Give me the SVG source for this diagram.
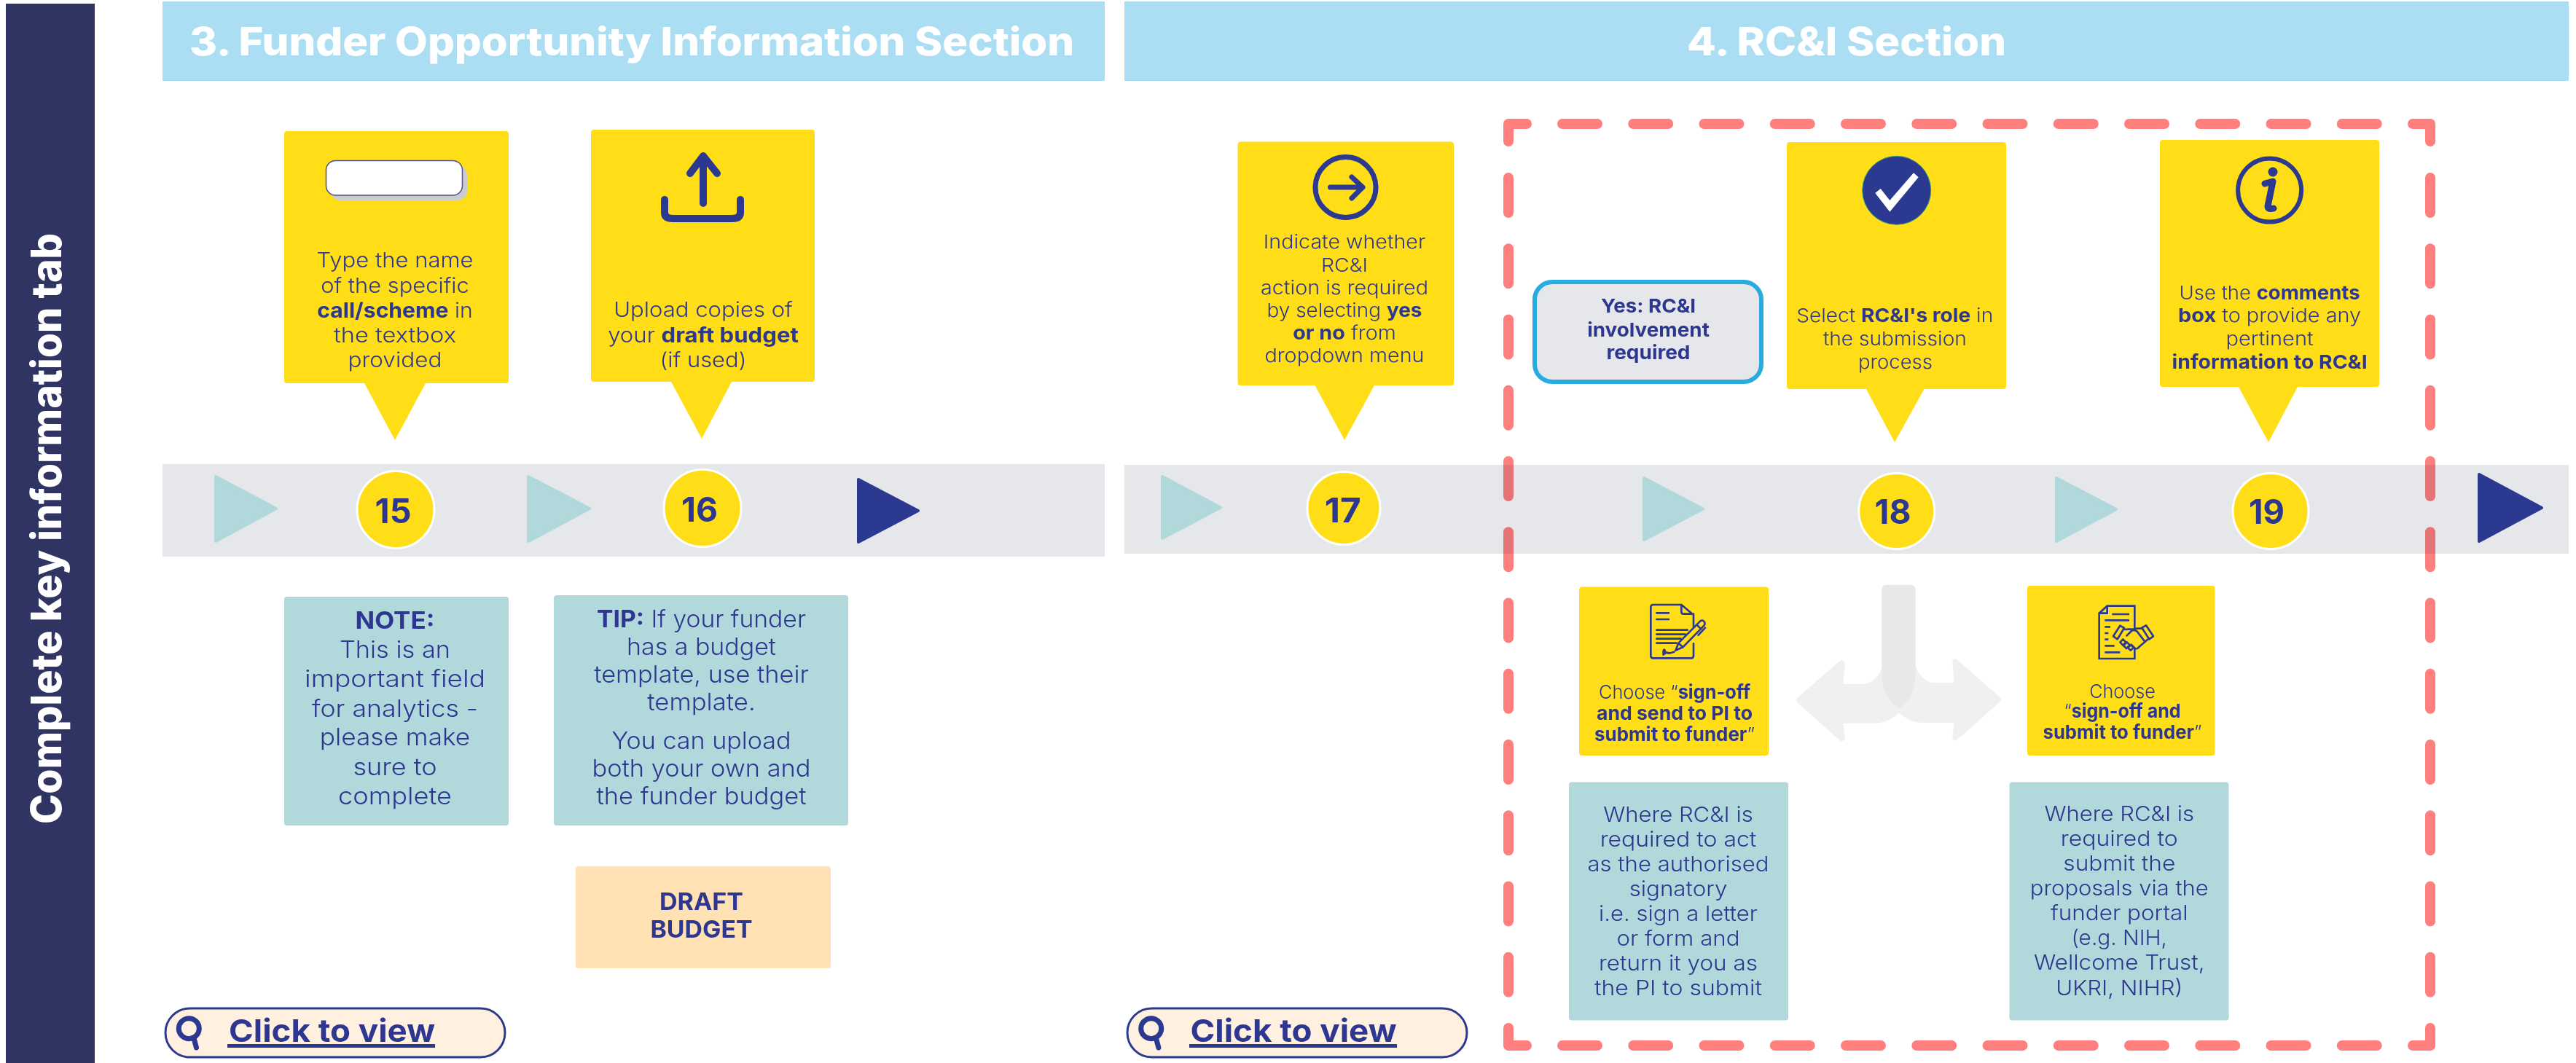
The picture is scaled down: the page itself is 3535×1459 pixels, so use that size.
<svg xmlns="http://www.w3.org/2000/svg" width="3535" height="1459" viewBox="0 0 3535 1459">
<style>
text{font-family:"Inter","Liberation Sans",sans-serif;fill:#2E3790;text-anchor:middle;font-weight:300}
.b,text.b{font-weight:700}
.w{fill:#fff;font-weight:800}
.y{fill:#FFDE17}
.g{fill:#B1D8DA}
.n{font-weight:700;font-size:46px}
.s26{font-size:26px}.s28{font-size:28px}.s29{font-size:29px}.s33{font-size:33px}
.tri{fill:#B1D8DA;stroke:#B1D8DA;stroke-width:4;stroke-linejoin:round}
.trid{fill:#2B3990;stroke:#2B3990;stroke-width:4;stroke-linejoin:round}
.num{fill:#FFDE17;stroke:#fff;stroke-width:3}
.ic{fill:none;stroke:#2B3990;stroke-linecap:round;stroke-linejoin:round}
.dash{fill:none;stroke:#FF7F7F;stroke-width:14;stroke-linecap:round;stroke-linejoin:round;mix-blend-mode:multiply}
.click{fill:#FFF0E0;stroke:#2B3990;stroke-width:3}
.cl{font-weight:700;font-size:43px}
</style>
<rect width="3535" height="1459" fill="#fff"/>
<g id="sidebar"><rect x="8" y="5" width="122" height="1454" fill="#303463"/>
<text class="w" transform="translate(84 725.500) rotate(-90) scale(1 1.2)" font-size="48" textLength="811" lengthAdjust="spacingAndGlyphs">Complete key information tab</text></g>
<g id="header-3"><rect x="223" y="2" width="1293" height="109" fill="#ABDEF3"/>
<text class="w" x="867" y="76" font-size="54" textLength="1214" lengthAdjust="spacingAndGlyphs">3. Funder Opportunity Information Section</text></g>
<g id="header-4"><rect x="1543" y="2" width="1982" height="109" fill="#ABDEF3"/>
<text class="w" x="2534" y="76" font-size="54" textLength="438" lengthAdjust="spacingAndGlyphs">4. RC&amp;I Section</text></g>
<g id="band-3"><rect x="223" y="637" width="1293" height="127" fill="#E6E7EB"/></g>
<g id="band-4"><rect x="1543" y="638" width="1982" height="122" fill="#E6E7EB"/></g>

<g id="connectors">
<polygon class="tri" points="296,654 379,698 296,743"/>
<polygon class="tri" points="725,654 809,698 725,743"/>
<polygon class="trid" points="1178,658 1260,701 1178,744"/>
<polygon class="tri" points="1595,654 1675,696.500 1595,739"/>
<polygon class="tri" points="2256,656 2337,698.500 2256,741"/>
<polygon class="tri" points="2822,656 2904,699 2822,743"/>
<polygon class="trid" points="3402,651 3488,697 3402,743"/>
<path class="dash" d="M2070 194V170H2095M3311 170H3335V194M3335 1411V1435H3311M2095 1435H2070V1411"/>
<path class="dash" stroke-dasharray="48 49.250" d="M2144 170H3263"/>
<path class="dash" stroke-dasharray="48 49.250" d="M2144 1435H3263"/>
<path class="dash" stroke-dasharray="48 49.250" d="M2070 244V1363"/>
<path class="dash" stroke-dasharray="48 49.250" d="M3335 244V1363"/>
<g id="fork" transform="translate(2440 780) scale(.33333)">
<path fill="#F0F0F0" stroke="#F0F0F0" stroke-width="24" stroke-linejoin="round" d="M87 543L262 390L263 400L255 488H355C395 488 427 450 439 410L498 578C470 610 430 626 395 626H255L263 690L262 700Z"/>
<path fill="#F0F0F0" stroke="#F0F0F0" stroke-width="24" stroke-linejoin="round" d="M906 540L730 386L731 395L738 483H640C600 483 566 445 554 405L498 578C530 610 560 623 590 623H738L731 690L730 697Z"/>
<path fill="#E8E8E8" d="M427 88Q427 68 447 68H546Q566 68 566 88V430C566 500 540 550 498 578C455 550 427 500 427 430Z"/>
</g>
</g>

<g id="step-15">
<path class="y" d="M394 180H694Q698 180 698 184V522Q698 526 694 526H584L542 604L500 526H394Q390 526 390 522V184Q390 180 394 180Z"/>
<rect x="454" y="227" width="187" height="48" rx="13" fill="#CCC"/>
<rect x="447.500" y="220.500" width="187" height="47.500" rx="13" fill="#fff" stroke="#4D5288" stroke-width="1.500"/>
<text class="s28" x="542" y="367" textLength="215" lengthAdjust="spacingAndGlyphs">Type the name</text>
<text class="s28" x="542" y="402" textLength="203.500" lengthAdjust="spacingAndGlyphs">of the specific</text>
<text class="s28" x="542" y="436" textLength="213.500" lengthAdjust="spacingAndGlyphs"><tspan class="b">call/scheme</tspan> in</text>
<text class="s28" x="542" y="470" textLength="168" lengthAdjust="spacingAndGlyphs">the textbox</text>
<text class="s28" x="542" y="503.500" textLength="129" lengthAdjust="spacingAndGlyphs">provided</text>
<circle class="num" cx="543" cy="699.500" r="53"/>
<text class="n" x="539.500" y="718" textLength="50" lengthAdjust="spacingAndGlyphs">15</text>
</g>
<g id="step-16">
<path class="y" d="M815 178H1114Q1118 178 1118 182V520Q1118 524 1114 524H1004L963 602L921 524H815Q811 524 811 520V182Q811 178 815 178Z"/>
<path class="ic" stroke-width="10" d="M965 279V216M947 238L965 214L984 238M912 274V292Q912 300 924 300H1004Q1016 300 1016 292V274"/>
<text class="s28" x="965" y="435" textLength="245.600" lengthAdjust="spacingAndGlyphs">Upload copies of</text>
<text class="s28" x="965" y="470" textLength="261.700" lengthAdjust="spacingAndGlyphs">your <tspan class="b">draft budget</tspan></text>
<text class="s28" x="965" y="503.500" textLength="119" lengthAdjust="spacingAndGlyphs">(if used)</text>
<circle class="num" cx="964" cy="697.500" r="53"/>
<text class="n" x="960" y="715.500" textLength="50" lengthAdjust="spacingAndGlyphs">16</text>
</g>
<g id="note"><rect class="g" x="390" y="819" width="308" height="314" rx="4"/>
<text class="s33 b" x="542" y="863" textLength="109" lengthAdjust="spacingAndGlyphs">NOTE:</text>
<text class="s33" x="542" y="903.400" textLength="152" lengthAdjust="spacingAndGlyphs">This is an</text>
<text class="s33" x="542" y="943" textLength="248" lengthAdjust="spacingAndGlyphs">important field</text>
<text class="s33" x="542" y="983.500" textLength="228" lengthAdjust="spacingAndGlyphs">for analytics -</text>
<text class="s33" x="542" y="1023.400" textLength="206.600" lengthAdjust="spacingAndGlyphs">please make</text>
<text class="s33" x="542" y="1063.700" textLength="115" lengthAdjust="spacingAndGlyphs">sure to</text>
<text class="s33" x="542" y="1103.500" textLength="156" lengthAdjust="spacingAndGlyphs">complete</text>
</g>
<g id="tip"><rect class="g" x="760" y="817" width="404" height="316" rx="4"/>
<text class="s33" x="962.500" y="861" textLength="287" lengthAdjust="spacingAndGlyphs"><tspan class="b">TIP:</tspan> If your funder</text>
<text class="s33" x="962.500" y="899" textLength="205" lengthAdjust="spacingAndGlyphs">has a budget</text>
<text class="s33" x="962.500" y="937" textLength="294.600" lengthAdjust="spacingAndGlyphs">template, use their</text>
<text class="s33" x="962.500" y="975" textLength="148.400" lengthAdjust="spacingAndGlyphs">template.</text>
<text class="s33" x="962.500" y="1027.700" textLength="246" lengthAdjust="spacingAndGlyphs">You can upload</text>
<text class="s33" x="962.500" y="1066" textLength="300" lengthAdjust="spacingAndGlyphs">both your own and</text>
<text class="s33" x="962.500" y="1104" textLength="288" lengthAdjust="spacingAndGlyphs">the funder budget</text>
</g>
<g id="draft-budget"><rect x="790" y="1189" width="350" height="140" rx="4" fill="#FFE1B4"/>
<text class="s33 b" x="962.500" y="1248.600" textLength="115" lengthAdjust="spacingAndGlyphs">DRAFT</text>
<text class="s33 b" x="962.500" y="1286.700" textLength="140" lengthAdjust="spacingAndGlyphs">BUDGET</text>
</g>
<g id="click-3"><rect class="click" x="227" y="1384" width="466" height="67" rx="33.500"/>
<circle class="ic" stroke-width="7" cx="259.300" cy="1411.700" r="14"/><path class="ic" stroke-width="7" stroke-linecap="butt" d="M266 1425L269.500 1438"/>
<text class="cl" x="455.500" y="1429.500" textLength="283" lengthAdjust="spacingAndGlyphs">Click to view</text>
<rect x="312" y="1433" width="285" height="5" fill="#2B3990"/>
</g>
<g id="click-4"><rect class="click" x="1547" y="1384" width="466" height="67" rx="33.500"/>
<circle class="ic" stroke-width="7" cx="1579.700" cy="1411.700" r="14"/><path class="ic" stroke-width="7" stroke-linecap="butt" d="M1586.400 1425L1589.900 1438"/>
<text class="cl" x="1775" y="1429.500" textLength="283" lengthAdjust="spacingAndGlyphs">Click to view</text>
<rect x="1632" y="1433" width="285" height="5" fill="#2B3990"/>
</g>
<g id="step-17">
<path class="y" d="M1702.500 194.500H1991Q1995 194.500 1995 198.500V525Q1995 529 1991 529H1886L1845 604L1804.500 529H1702.500Q1698.500 529 1698.500 525V198.500Q1698.500 194.500 1702.500 194.500Z"/>
<circle class="ic" stroke-width="7" cx="1846.500" cy="257" r="41.500"/>
<path class="ic" stroke-width="7" d="M1825.500 257H1870M1855 243L1870 257L1855 272"/>
<text class="s26" x="1845" y="341.300" textLength="222.400" lengthAdjust="spacingAndGlyphs">Indicate whether</text>
<text class="s26" x="1845" y="372.600" textLength="64" lengthAdjust="spacingAndGlyphs">RC&amp;I</text>
<text class="s26" x="1845" y="403.500" textLength="230" lengthAdjust="spacingAndGlyphs">action is required</text>
<text class="s26" x="1845" y="434.800" textLength="213" lengthAdjust="spacingAndGlyphs">by selecting <tspan class="b">yes</tspan></text>
<text class="s26" x="1845" y="465.700" textLength="141.700" lengthAdjust="spacingAndGlyphs"><tspan class="b">or no</tspan> from</text>
<text class="s26" x="1845" y="496.500" textLength="219" lengthAdjust="spacingAndGlyphs">dropdown menu</text>
<circle class="num" cx="1844" cy="697.500" r="50"/>
<text class="n" x="1842.700" y="716.500" textLength="50" lengthAdjust="spacingAndGlyphs">17</text>
</g>
<g id="yes-box"><rect x="2106" y="387" width="311" height="137" rx="24" fill="#E6E7EB" stroke="#29ABE2" stroke-width="6"/>
<text class="s26 b" x="2262" y="429.400" textLength="130" lengthAdjust="spacingAndGlyphs">Yes: RC&amp;I</text>
<text class="s26 b" x="2262" y="462" textLength="167.700" lengthAdjust="spacingAndGlyphs">involvement</text>
<text class="s26 b" x="2262" y="493" textLength="115" lengthAdjust="spacingAndGlyphs">required</text>
</g>
<g id="step-18">
<path class="y" d="M2456 195H2749Q2753 195 2753 199V530Q2753 534 2749 534H2640.500L2600 607L2561 534H2456Q2452 534 2452 530V199Q2452 195 2456 195Z"/>
<circle cx="2602.700" cy="261.300" r="47" fill="#2B3990" stroke="#2FA37A" stroke-width="1"/>
<polygon fill="#fff" points="2573.300,265 2580.700,259 2593.300,275 2626,237.300 2632.700,243.300 2593.300,290.700"/>
<text class="s26" x="2600.200" y="442" textLength="270" lengthAdjust="spacingAndGlyphs">Select <tspan class="b">RC&amp;I's role</tspan> in</text>
<text class="s26" x="2600.400" y="474" textLength="197" lengthAdjust="spacingAndGlyphs">the submission</text>
<text class="s26" x="2601" y="505.500" textLength="102" lengthAdjust="spacingAndGlyphs">process</text>
<circle class="num" cx="2602.700" cy="701.500" r="52"/>
<text class="n" x="2597.600" y="719" textLength="50" lengthAdjust="spacingAndGlyphs">18</text>
</g>
<g id="step-19">
<path class="y" d="M2968 192H3261Q3265 192 3265 196V527Q3265 531 3261 531H3153L3113 607L3072 531H2968Q2964 531 2964 527V196Q2964 192 2968 192Z"/>
<circle class="ic" stroke-width="6" cx="3114.600" cy="261" r="43.500"/>
<circle cx="3119" cy="236" r="6.500" fill="#2B3990"/>
<path class="ic" stroke-width="9" d="M3108 252L3119 249L3112 283Q3112 288 3120 286"/>
<text class="s26" x="3114.600" y="411" textLength="248" lengthAdjust="spacingAndGlyphs">Use the <tspan class="b">comments</tspan></text>
<text class="s26" x="3114.600" y="442" textLength="251" lengthAdjust="spacingAndGlyphs"><tspan class="b">box</tspan> to provide any</text>
<text class="s26" x="3114.600" y="473.600" textLength="120" lengthAdjust="spacingAndGlyphs">pertinent</text>
<text class="s26 b" x="3114.600" y="505.500" textLength="268" lengthAdjust="spacingAndGlyphs">information to RC&amp;I</text>
<circle class="num" cx="3116" cy="701.500" r="52"/>
<text class="n" x="3110.500" y="719" textLength="49" lengthAdjust="spacingAndGlyphs">19</text>
</g>
<g id="sign-send"><rect class="y" x="2167" y="805.500" width="260" height="231.500" rx="4"/>
<g class="ic" stroke-width="8" transform="translate(2220 820) scale(.33333)">
<path d="M262 30H146Q136 30 136 40V240Q136 250 146 250H302Q312 250 312 240V190M312 120V72L262 30V60Q262 68 272 68H312"/>
<path d="M160 64H210M160 90H210M160 134H287M160 152H278M160 170H260M160 188H242"/>
<path d="M188 236Q186 216 192 215Q198 220 194 232Q205 222 208 230Q220 228 232 224"/>
<path d="M238 218L250 188L340 97Q352 90 358 103Q360 110 356 115L268 205ZM250 188L268 205M325 112L343 130M360 125L332 155"/>
</g>
<text class="s26" x="2298" y="959" textLength="208" lengthAdjust="spacingAndGlyphs">Choose “<tspan class="b">sign-off</tspan></text>
<text class="s26 b" x="2298" y="988" textLength="214" lengthAdjust="spacingAndGlyphs">and send to PI to</text>
<text class="s26" x="2298" y="1017" textLength="220" lengthAdjust="spacingAndGlyphs"><tspan class="b">submit to funder</tspan>”</text>
</g>
<g id="sign-submit"><rect class="y" x="2782" y="804" width="257.500" height="233" rx="4"/>
<g class="ic" stroke-width="8" transform="translate(2860 820) scale(.33333)">
<path stroke-linecap="butt" stroke-linejoin="miter" d="M208 130V35H95L62 65V252H208V210M95 35V65H62"/>
<path stroke-linecap="butt" d="M115 69H186M85 94H186M85 121H108M85 147H100M85 173H100M85 199H125M85 226H148"/>
<path d="M120 160L148 116L165 126L137 172ZM238 125L255 115L285 160L268 172Z"/>
<path d="M168 132C185 128 205 135 215 128L240 128M175 158L195 138Q205 130 218 140L250 182M265 170L225 205Q215 218 205 205L195 195"/>
<path d="M148 185L160 172L172 184L160 197ZM162 198L176 184L188 196L174 210ZM180 208L192 195L204 206L192 218Z"/>
</g>
<text class="s26" x="2912.500" y="957.600" textLength="90.600" lengthAdjust="spacingAndGlyphs">Choose</text>
<text class="s26" x="2912.500" y="985" textLength="160" lengthAdjust="spacingAndGlyphs">“<tspan class="b">sign-off and</tspan></text>
<text class="s26" x="2912.500" y="1014" textLength="218" lengthAdjust="spacingAndGlyphs"><tspan class="b">submit to funder</tspan>”</text>
</g>
<g id="where-left"><rect class="g" x="2153" y="1073.500" width="301" height="327" rx="4"/>
<text class="s29" x="2303" y="1128" textLength="205.500" lengthAdjust="spacingAndGlyphs">Where RC&amp;I is</text>
<text class="s29" x="2303" y="1162" textLength="214.700" lengthAdjust="spacingAndGlyphs">required to act</text>
<text class="s29" x="2303" y="1196" textLength="249" lengthAdjust="spacingAndGlyphs">as the authorised</text>
<text class="s29" x="2303" y="1230" textLength="134.700" lengthAdjust="spacingAndGlyphs">signatory</text>
<text class="s29" x="2303" y="1264" textLength="218" lengthAdjust="spacingAndGlyphs">i.e. sign a letter</text>
<text class="s29" x="2303" y="1298" textLength="169" lengthAdjust="spacingAndGlyphs">or form and</text>
<text class="s29" x="2303" y="1332" textLength="218" lengthAdjust="spacingAndGlyphs">return it you as</text>
<text class="s29" x="2303" y="1366" textLength="230" lengthAdjust="spacingAndGlyphs">the PI to submit</text>
</g>
<g id="where-right"><rect class="g" x="2757.500" y="1073.500" width="301" height="327" rx="4"/>
<text class="s29" x="2908.300" y="1127" textLength="205.700" lengthAdjust="spacingAndGlyphs">Where RC&amp;I is</text>
<text class="s29" x="2908.300" y="1161" textLength="161" lengthAdjust="spacingAndGlyphs">required to</text>
<text class="s29" x="2908.300" y="1195" textLength="154" lengthAdjust="spacingAndGlyphs">submit the</text>
<text class="s29" x="2908.300" y="1229" textLength="245" lengthAdjust="spacingAndGlyphs">proposals via the</text>
<text class="s29" x="2908.300" y="1263" textLength="188.500" lengthAdjust="spacingAndGlyphs">funder portal</text>
<text class="s29" x="2908.300" y="1296.700" textLength="131.500" lengthAdjust="spacingAndGlyphs">(e.g. NIH,</text>
<text class="s29" x="2908.300" y="1331" textLength="234.500" lengthAdjust="spacingAndGlyphs">Wellcome Trust,</text>
<text class="s29" x="2908.300" y="1366" textLength="174" lengthAdjust="spacingAndGlyphs">UKRI, NIHR)</text>
</g>
</svg>
